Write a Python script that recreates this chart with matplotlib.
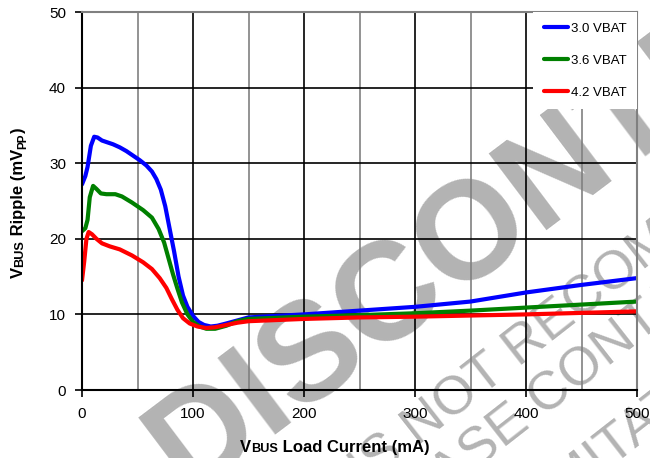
import matplotlib
matplotlib.use("Agg")
import matplotlib.pyplot as plt

plt.rcParams['font.family'] = ['Liberation Sans', 'DejaVu Sans']

# --- data ---
x_blue = [0, 3, 5, 8, 11, 14, 18, 22, 28, 34, 40, 46, 52, 58, 63, 67, 71, 75, 79, 83,
          87, 91, 95, 100, 105, 110, 116, 122, 130, 140, 150, 175, 200, 250, 300, 350,
          375, 400, 450, 500]
y_blue = [27.2, 28.3, 29.5, 32.3, 33.5, 33.4, 33.0, 32.8, 32.5, 32.1, 31.6, 31.0, 30.4,
          29.7, 28.9, 27.9, 26.5, 24.3, 21.3, 18.3, 15.0, 12.5, 11.0, 9.8, 9.0, 8.6, 8.4,
          8.5, 8.8, 9.2, 9.6, 9.8, 10.0, 10.5, 11.0, 11.7, 12.3, 12.9, 13.9, 14.8]

x_green = [0, 3, 5, 7, 10, 13, 17, 22, 30, 36, 45, 55, 63, 69, 74, 78, 82, 86, 90, 95,
           100, 106, 112, 120, 130, 140, 150, 200, 250, 300, 350, 400, 450, 500]
y_green = [21.0, 21.4, 22.5, 25.5, 27.0, 26.6, 26.0, 25.9, 25.9, 25.6, 24.8, 23.8, 22.8,
           21.3, 19.5, 17.4, 15.3, 13.4, 11.6, 10.0, 9.0, 8.4, 8.1, 8.1, 8.5, 9.1, 9.4,
           9.7, 9.9, 10.15, 10.5, 10.9, 11.3, 11.7]

x_red = [0, 2, 4, 6, 9, 13, 18, 25, 34, 45, 55, 63, 70, 76, 81, 86, 91, 97, 104, 112,
         120, 130, 140, 150, 200, 250, 300, 400, 450, 500]
y_red = [14.5, 17.0, 20.0, 20.9, 20.6, 20.0, 19.4, 19.0, 18.6, 17.8, 16.9, 16.0, 14.8,
         13.5, 12.0, 10.6, 9.5, 8.8, 8.4, 8.2, 8.3, 8.6, 8.9, 9.1, 9.4, 9.6, 9.7, 10.0,
         10.2, 10.4]

labels = ['3.0 VBAT', '3.6 VBAT', '4.2 VBAT']
colors = ['#0000ff', '#008000', '#ff0000']

W, H = 650, 458
fig = plt.figure(figsize=(W / 100, H / 100), dpi=100)
ax = fig.add_axes([82 / W, 1 - 390 / H, (637 - 82) / W, (390 - 12) / H])
ax.set_facecolor('none')

# watermark behind the plot
wm = '#b3b3b3'
def wm_text(x, y, s, size, angle, weight='normal'):
    fig.text(x / W, 1 - y / H, s, fontsize=size, color=wm, fontweight=weight,
             rotation=angle, rotation_mode='anchor', ha='left', va='baseline', zorder=-1)

wm_text(187, 494, 'DISCONTINUED', 100, 37, 'bold')
wm_text(257, 573, 'THIS IS NOT RECOMMENDED', 39, 38)
wm_text(366, 557, 'PLEASE CONTACT', 39, 38)
wm_text(529, 529, 'LIMITATIONS', 39, 38)

for xs, ys, c, lab in zip([x_blue, x_green, x_red], [y_blue, y_green, y_red], colors, labels):
    ax.plot(xs, ys, color=c, lw=3, label=lab, solid_capstyle='round')

ax.set_xlim(0, 500)
ax.set_ylim(0, 50)
ax.set_xticks(range(0, 501, 100))
ax.set_xticks(range(50, 500, 100), minor=True)
ax.set_yticks(range(0, 51, 10))
ax.tick_params(axis='both', which='major', direction='out', length=5, width=1.2,
               labelsize=11)
ax.tick_params(axis='x', which='major', pad=7)
ax.tick_params(axis='y', which='major', pad=6.5)
ax.tick_params(axis='x', which='minor', length=0)
ax.grid(which='major', color='black', lw=1.2)
ax.grid(which='minor', axis='x', color='#808080', lw=1.2)
for s in ['left', 'bottom']:
    ax.spines[s].set_linewidth(1.5)
for s in ['top', 'right']:
    ax.spines[s].set_color('#808080')
    ax.spines[s].set_linewidth(1.5)

ax.legend(loc='upper right', frameon=True, fancybox=False, edgecolor='none',
          facecolor='white', framealpha=1, fontsize=9.5, handlelength=1.8,
          handletextpad=0.25, borderpad=0.8, labelspacing=1.5, borderaxespad=0)

# axis labels with small-caps "BUS" and subscript "PP"
def put_runs(x0, y0, runs, rot=0):
    r = fig.canvas.get_renderer()
    pos = 0.0
    for s, size, shift in runs:
        t = fig.text(0, 0, s, fontsize=size, fontweight='bold', ha='left', va='baseline')
        w = t.get_window_extent(r).width
        if rot == 0:
            x, y = x0 + pos, y0 + shift
        else:
            x, y = x0 + shift, y0 - pos
        t.set_position((x / W, 1 - y / H))
        t.set_rotation(rot)
        t.set_rotation_mode('anchor')
        pos += w

put_runs(240, 452, [('V', 12, 0), ('BUS', 9.2, 0), (' Load Current (mA)', 12, 0)])
put_runs(23, 278, [('V', 12, 0), ('BUS', 9.2, 0), (' Ripple (mV', 12, 0),
                   ('PP', 8.5, 3), (')', 12, 0)], rot=90)

fig.savefig('out.png', dpi=100)
